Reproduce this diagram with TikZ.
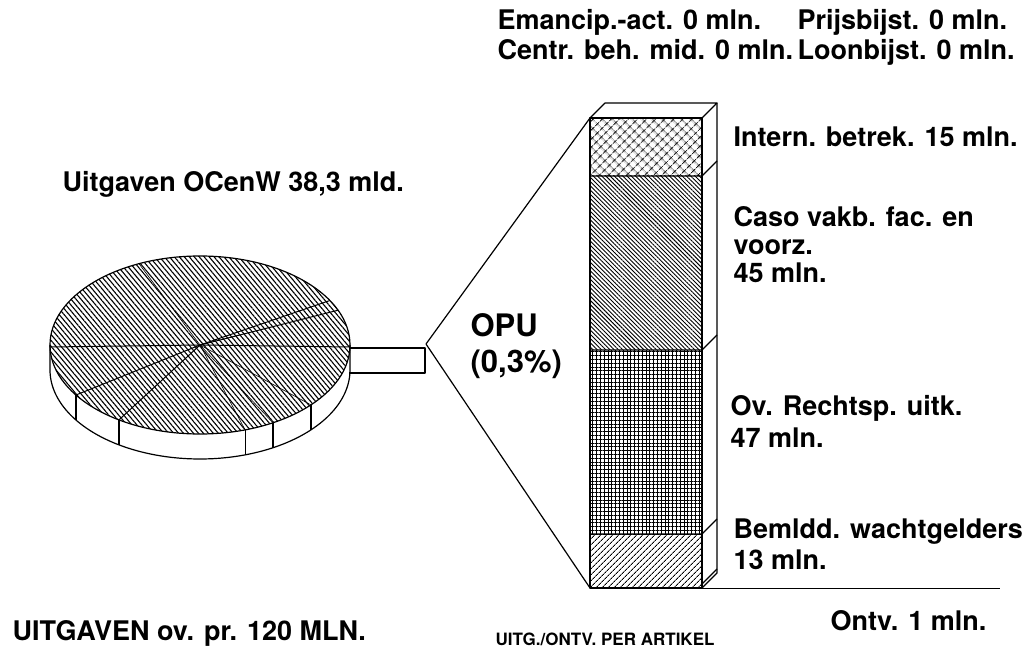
\documentclass[tikz,border=0pt]{standalone}
\usepackage{fontspec}
\setmainfont{TeX Gyre Heros}
\usetikzlibrary{patterns.meta}
\newcommand\lblf{\fontsize{27}{30}\selectfont\bfseries}
\newcommand\bigf{\fontsize{31}{36}\selectfont\bfseries}
\newcommand\smallf{\fontsize{17}{20}\selectfont\bfseries}
\begin{document}
\begin{tikzpicture}[x=1pt,y=-1pt,line width=1.2pt,line join=round,
  lbl/.style={font=\lblf,anchor=base west,inner sep=0pt},
  biglbl/.style={font=\bigf,anchor=base west,inner sep=0pt},
  smalllbl/.style={font=\smallf,anchor=base west,inner sep=0pt},
  slice/.style={line width=1pt},
  faint/.style={line width=0.6pt},
  pietop/.style={pattern={Lines[angle=-50,distance=3.8pt,line width=1.1pt]}},
  crossfill/.style={pattern={Hatch[angle=45,distance=6.5pt,line width=1pt]}},
  backfill/.style={pattern={Lines[angle=-45,distance=3pt,line width=0.9pt]}},
  gridfill/.style={pattern={Hatch[angle=0,distance=3.8pt,line width=0.9pt]}},
  fwdfill/.style={pattern={Lines[angle=45,distance=4pt,line width=0.9pt]}}]
\useasboundingbox (0,0) rectangle (1029,652);

% ---------- pie ----------
\coordinate (pc) at (200,345);
\draw (50,345) -- (50,370)
  plot[domain=180:0,samples=90] ({200+150*cos(\x)},{370+89*sin(\x)})
  -- (350,345);
\foreach \a in {145.8,122.7,72.5,60.9,42.3}
  \draw ({200+150*cos(\a)},{345+89*sin(\a)}) -- ({200+150*cos(\a)},{370+89*sin(\a)});
\draw[pietop] (pc) ellipse [x radius=150pt, y radius=89pt];
% slice lines
\draw[slice] (50,347) -- (pc) -- (350,347);
\foreach \a in {145.8,122.7,-30,-23}
  \draw[slice] (pc) -- ({200+150*cos(\a)},{345+89*sin(\a)});
\foreach \a in {-114,72.5,60.9,42.3}
  \draw[faint] (pc) -- ({200+150*cos(\a)},{345+89*sin(\a)});
% exploded slice (tab)
\coordinate (tabTL) at (349,348);
\coordinate (tabTR) at (425,348);
\coordinate (tabBR) at (425,373);
\coordinate (tabBL) at (349,373);
\draw (tabTL) -- (tabTR) -- (tabBR) -- (tabBL);

% ---------- bar ----------
\coordinate (apex) at (426,344);
\coordinate (fTL) at (590,118);
\coordinate (fBL) at (590,588);
\path[crossfill] (590,118) rectangle (702,176);
\path[backfill] (590,176) rectangle (702,350);
\path[gridfill] (590,350) rectangle (702,534);
\path[fwdfill] (590,534) rectangle (702,588);
\draw (fTL) rectangle (702,588);
\draw (590,176) -- (702,176) -- (717,161);
\draw (590,350) -- (702,350) -- (717,335);
\draw (590,534) -- (702,534) -- (717,519);
\draw (fTL) -- (605,103) -- (717,103) -- (702,118);
\draw (717,103) -- (717,573) -- (702,588);
\draw (702,584) -- (717,569);
\draw[line width=2.6pt] (fBL) -- (702,588);
\draw[line width=0.8pt] (702,588) -- (1000,588);
% connector from pie to bar
\draw (fTL) -- (apex) -- (fBL);

% ---------- labels ----------
\node[lbl] (lUit) at (62,192) {Uitgaven OCenW 38,3 mld.};
\node[lbl] (lEm) at (497,30) {Emancip.-act. 0 mln.};
\node[lbl] (lPr) at (797,30) {Prijsbijst. 0 mln.};
\node[lbl] (lCe) at (497,60) {Centr. beh. mid. 0 mln.};
\node[lbl] (lLo) at (797,60) {Loonbijst. 0 mln.};
\node[lbl] (lIn) at (733,147) {Intern. betrek. 15 mln.};
\node[lbl] (lCa1) at (733,227) {Caso vakb. fac. en};
\node[lbl] (lCa2) at (733,255) {voorz.};
\node[lbl] (lCa3) at (733,283) {45 mln.};
\node[biglbl] (lOpu) at (470,337) {OPU};
\node[biglbl] (lPct) at (470,373) {(0,3\%)};
\node[lbl] (lOv1) at (730,416) {Ov. Rechtsp. uitk.};
\node[lbl] (lOv2) at (730,447) {47 mln.};
\node[lbl] (lBe1) at (733,538) {Bemldd. wachtgelders};
\node[lbl] (lBe2) at (733,569) {13 mln.};
\node[lbl] (lOn) at (830,630) {Ontv. 1 mln.};
\node[lbl] (lTot) at (12,640) {UITGAVEN ov. pr. 120 MLN.};
\node[smalllbl] (lArt) at (495,645) {UITG./ONTV. PER ARTIKEL};
\end{tikzpicture}
\end{document}
